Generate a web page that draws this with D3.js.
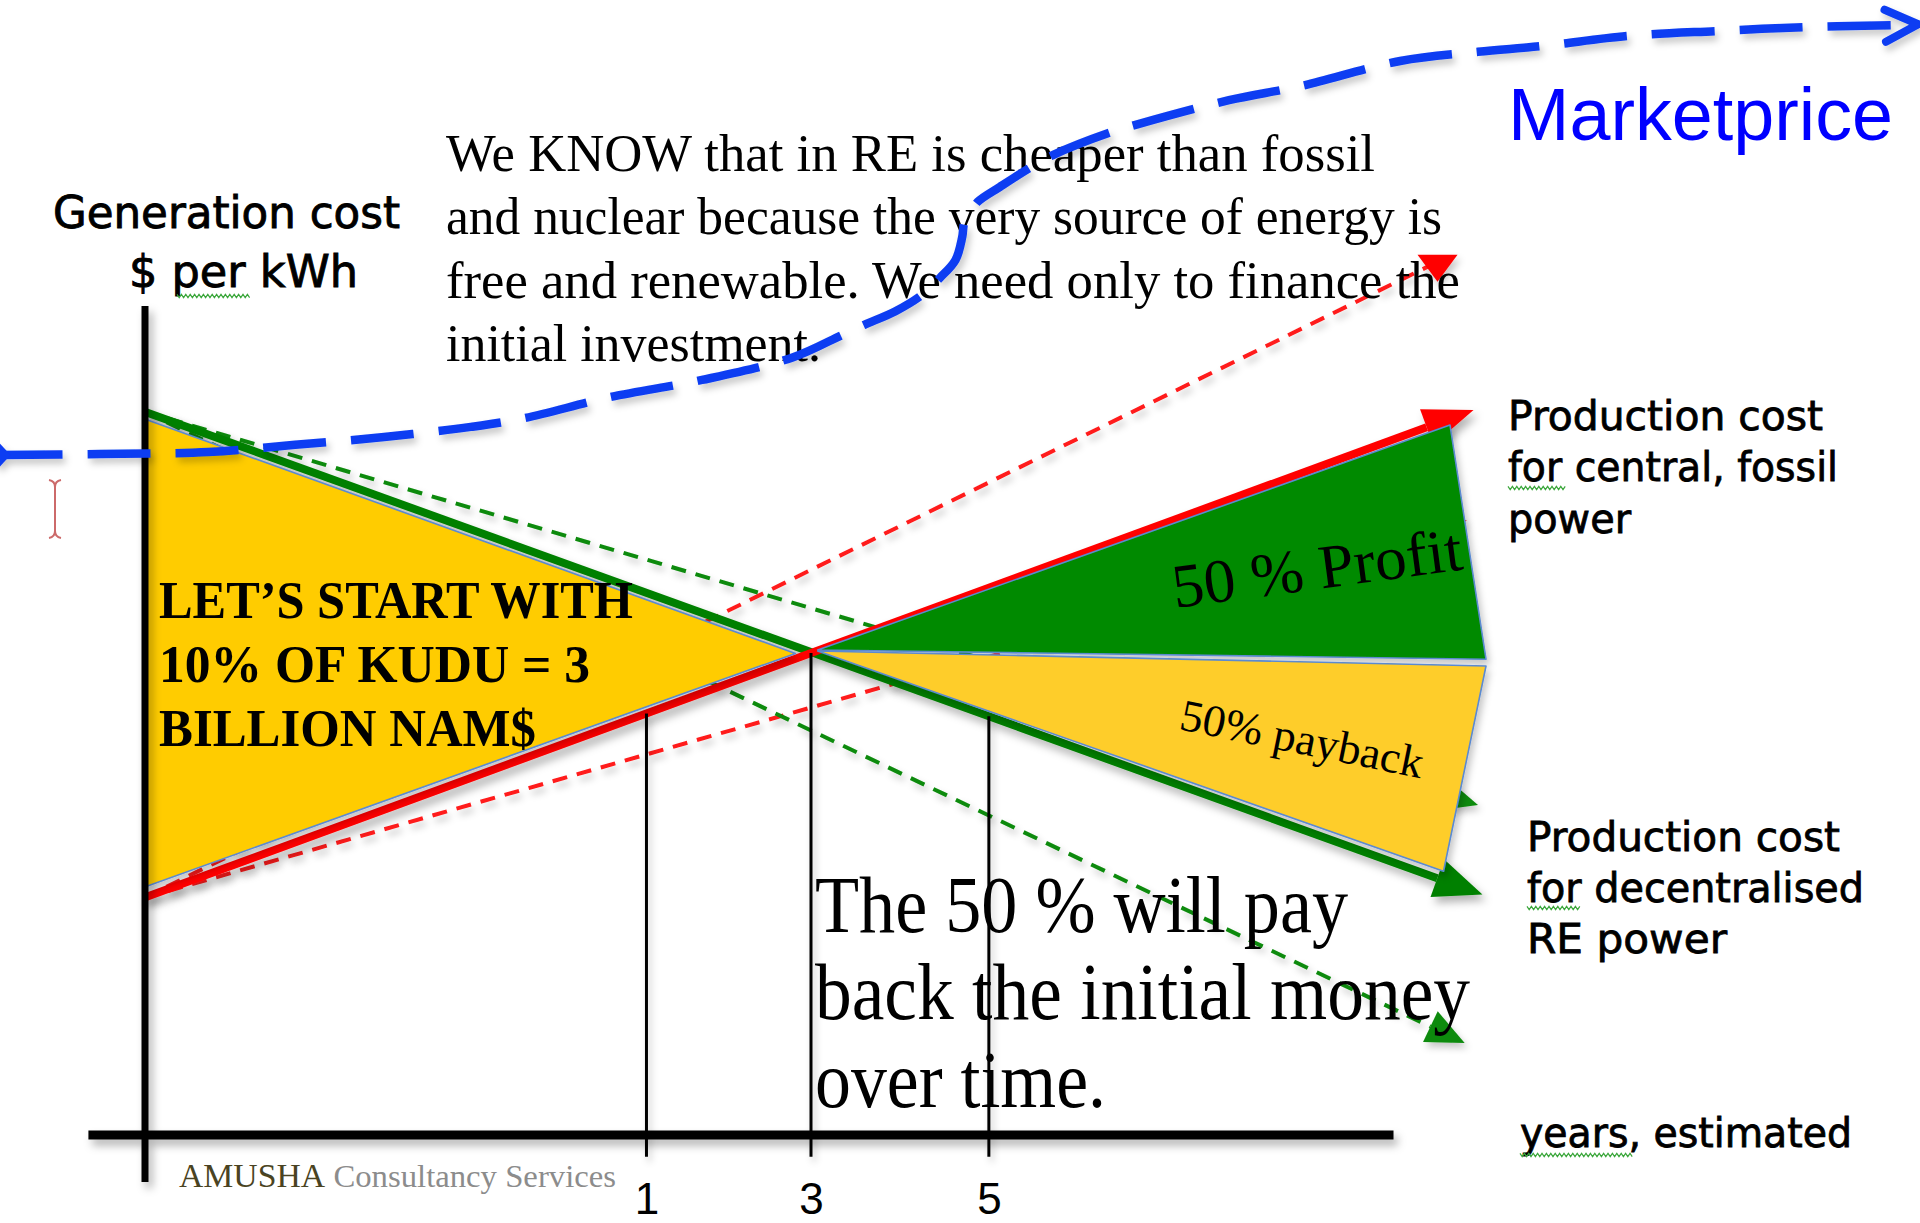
<!DOCTYPE html>
<html>
<head>
<meta charset="utf-8">
<script src="https://cdn.jsdelivr.net/npm/d3@7"></script>
<style>
  html, body { margin: 0; padding: 0; background: #fff; }
  svg { display: block; }
</style>
</head>
<body>
<svg id="chart" width="1920" height="1223"></svg>
<script>
// ---- data: schematic time (years) vs generation cost (cost units) ----
const reCost            = [[0, 14.95], [6.02, 4.97]];   // decentralised RE, falling
const fossilCost        = [[0, 4.9],  [5.98, 14.98]];   // central fossil, rising
const reCostShallow     = [[0, 14.95], [6.0, 6.82]];
const reCostSteep       = [[0, 14.95], [5.94, 1.9]];
const fossilCostSteep   = [[0, 4.9],  [5.8, 18.0]];
const fossilCostShallow = [[0, 4.9],  [5.95, 12.7]];

const investmentArea = [[0, 14.8], [0, 5.12], [2.93, 9.95]];
const profitArea     = [[3.03, 10.02], [5.874, 14.67], [6.036, 9.83]];
const paybackArea    = [[3.03, 10.0], [6.036, 9.69], [5.845, 5.45]];

const marketPrice = [
  [-0.65, 14.05], [-0.2, 14.07], [0.29, 14.11], [0.68, 14.26], [1.08, 14.42],
  [1.47, 14.63], [1.71, 14.81], [2.1, 15.25], [2.51, 15.6], [2.92, 16.07],
  [3.14, 16.53], [3.24, 16.74], [3.38, 17.02], [3.5, 17.36], [3.58, 17.71],
  [3.65, 18.08], [3.68, 18.55], [3.69, 18.86], [3.72, 19.07], [3.75, 19.28],
  [3.85, 19.59], [3.99, 20.0], [4.09, 20.25], [4.35, 20.72], [4.46, 20.87],
  [4.88, 21.38], [5.2, 21.67], [5.65, 22.19], [6.0, 22.38], [6.29, 22.5],
  [6.68, 22.71], [7.08, 22.81], [7.47, 22.89], [7.87, 22.93], [7.98, 22.95]
];

const tickYears  = [2.26, 3.0, 3.8];
const tickLabels = ["1", "3", "5"];
const xAxisSpan  = [-0.25, 5.62];
const yAxisSpan  = [-0.97, 17.13];
const guideFoot  = -0.45;

// ---- texts ----
const axisTitle    = ["Generation cost", "$ per kWh"];
const fossilLabel  = ["Production cost", "for central, fossil", "power"];
const reLabel      = ["Production cost", "for decentralised", "RE power"];
const timeLabel    = "years, estimated";
const marketLabel  = "Marketprice";
const startNote    = ["LET\u2019S START WITH", "10% OF KUDU = 3", "BILLION NAM$"];
const profitLabel  = "50 % Profit";
const paybackLabel = "50% payback";
const paybackNote  = ["The 50 % will pay", "back the initial money", "over time."];
const introNote    = [
  "We KNOW that in RE is cheaper than fossil",
  "and nuclear because the very source of energy is",
  "free and renewable. We need only to finance the",
  "initial investment."
];
const brand = ["AMUSHA", " Consultancy Services"];

// ---- scales ----
const x = d3.scaleLinear().domain([0, 3]).range([144, 811]);
const y = d3.scaleLinear().domain([0, 10]).range([1135, 651]);
const toPx = d => [x(d[0]), y(d[1])];

const svg = d3.select("#chart");
const defs = svg.append("defs");

function shadow(id, dx, dy, sd, op) {
  defs.append("filter").attr("id", id)
    .attr("filterUnits", "userSpaceOnUse")
    .attr("x", -60).attr("y", -60).attr("width", 2040).attr("height", 1343)
    .append("feDropShadow")
    .attr("dx", dx).attr("dy", dy).attr("stdDeviation", sd)
    .attr("flood-color", "#000").attr("flood-opacity", op);
}
shadow("shadow", 4, 6, 4, 0.3);
shadow("shadowSoft", 3, 5, 3.5, 0.22);

function arrowMarker(id, len, half, color) {
  defs.append("marker").attr("id", id)
    .attr("markerUnits", "userSpaceOnUse")
    .attr("viewBox", `-1 ${-half - 1} ${len + 2} ${2 * half + 2}`)
    .attr("markerWidth", len + 2).attr("markerHeight", 2 * half + 2)
    .attr("refX", 0).attr("refY", 0).attr("orient", "auto")
    .append("path").attr("d", `M0,${-half}L${len},0L0,${half}Z`).attr("fill", color);
}
arrowMarker("arrowGreen", 48, 20, "#008000");
arrowMarker("arrowRed", 50, 19, "#ff0000");
arrowMarker("arrowGreenSmall", 38, 17, "#0a8a0a");
arrowMarker("arrowRedSmall", 36, 15, "#ff1a1a");

// downward wedge closing the steep fossil band
defs.append("marker").attr("id", "wedgeRed")
  .attr("markerUnits", "userSpaceOnUse")
  .attr("viewBox", "-26 -20 52 40").attr("markerWidth", 52).attr("markerHeight", 40)
  .attr("refX", -4).attr("refY", -4).attr("orient", "0")
  .append("path").attr("d", "M-20,-13L20,-13L0,14Z").attr("fill", "#ff0000");

const blue = "#0b3cf2";
defs.append("marker").attr("id", "tailBlue")
  .attr("markerUnits", "userSpaceOnUse")
  .attr("viewBox", "-13 -14 26 28").attr("markerWidth", 26).attr("markerHeight", 28)
  .attr("refX", 0).attr("refY", 0).attr("orient", "auto")
  .append("path").attr("d", "M-11,0L0,-12L11,0L0,12Z").attr("fill", blue);
defs.append("marker").attr("id", "headBlue")
  .attr("markerUnits", "userSpaceOnUse")
  .attr("viewBox", "-42 -24 50 48").attr("markerWidth", 50).attr("markerHeight", 48)
  .attr("refX", 0).attr("refY", 0).attr("orient", "auto")
  .style("overflow", "visible")
  .append("path").attr("d", "M-33,-16L0,0L-33,16")
  .attr("fill", "none").attr("stroke", blue).attr("stroke-width", 8)
  .attr("stroke-linecap", "round").attr("stroke-linejoin", "round");

// polyline in pixels, shortened at the end so an arrowhead can sit on it
function trimmedPath(pts, trim) {
  const p = pts.map(toPx);
  if (trim) {
    const a = p[p.length - 2], b = p[p.length - 1];
    const dx = b[0] - a[0], dy = b[1] - a[1], len = Math.hypot(dx, dy);
    p[p.length - 1] = [b[0] - dx / len * trim, b[1] - dy / len * trim];
  }
  return d3.line()(p);
}

// ---- uncertainty bands (dashed) ----
const gDash = svg.append("g").attr("filter", "url(#shadowSoft)").attr("fill", "none");
[
  { pts: fossilCostSteep,   color: "#ff1a1a", trim: 0,  marker: "wedgeRed" },
  { pts: fossilCostShallow, color: "#ff1a1a", trim: 36, marker: "arrowRedSmall" },
  { pts: reCostShallow,     color: "#0a8a0a", trim: 38, marker: "arrowGreenSmall" },
  { pts: reCostSteep,       color: "#0a8a0a", trim: 38, marker: "arrowGreenSmall" }
].forEach(s => {
  gDash.append("path").attr("d", trimmedPath(s.pts, s.trim))
    .attr("stroke", s.color).attr("stroke-width", 4)
    .attr("stroke-dasharray", "15 10")
    .attr("marker-end", `url(#${s.marker})`);
});

// ---- cost lines (solid) ----
const gSolid = svg.append("g").attr("filter", "url(#shadow)").attr("fill", "none");
gSolid.append("path").attr("d", trimmedPath(reCost, 48))
  .attr("stroke", "#008000").attr("stroke-width", 8).attr("marker-end", "url(#arrowGreen)");
gSolid.append("path").attr("d", trimmedPath(fossilCost, 50))
  .attr("stroke", "#ff0000").attr("stroke-width", 8).attr("marker-end", "url(#arrowRed)");

// ---- investment / profit / payback areas ----
const gArea = svg.append("g").attr("filter", "url(#shadowSoft)");
[
  { pts: investmentArea, fill: "#ffcc00" },
  { pts: profitArea,     fill: "#008a00" },
  { pts: paybackArea,    fill: "#fecd2b" }
].forEach(a => {
  gArea.append("path").attr("d", d3.line()(a.pts.map(toPx)) + "Z")
    .attr("fill", a.fill).attr("stroke", "#5b8ad0").attr("stroke-width", 1.6)
    .attr("stroke-linejoin", "round");
});

// ---- year guides, dropped from the cost lines ----
const lineAt = (pts, t) => pts[0][1] + (pts[1][1] - pts[0][1]) * (t - pts[0][0]) / (pts[1][0] - pts[0][0]);
const gGuide = svg.append("g").attr("filter", "url(#shadowSoft)");
tickYears.forEach(t => {
  const top = Math.min(lineAt(reCost, t), lineAt(fossilCost, t));
  gGuide.append("line")
    .attr("x1", x(t)).attr("x2", x(t))
    .attr("y1", y(top)).attr("y2", y(guideFoot))
    .attr("stroke", "#000").attr("stroke-width", 3);
});

// ---- axes ----
const gAxis = svg.append("g").attr("filter", "url(#shadow)");
gAxis.append("line")
  .attr("x1", x(xAxisSpan[0])).attr("x2", x(xAxisSpan[1]))
  .attr("y1", y(0)).attr("y2", y(0))
  .attr("stroke", "#000").attr("stroke-width", 9);
gAxis.append("line")
  .attr("x1", x(0) + 1).attr("x2", x(0) + 1)
  .attr("y1", y(yAxisSpan[0])).attr("y2", y(yAxisSpan[1]))
  .attr("stroke", "#000").attr("stroke-width", 7);

const xAxis = d3.axisBottom(x)
  .tickValues(tickYears)
  .tickFormat((d, i) => tickLabels[i])
  .tickSize(0).tickPadding(48);
const gX = svg.append("g").attr("transform", `translate(0,${y(0)})`).call(xAxis);
gX.select(".domain").remove();
gX.selectAll("text")
  .attr("font-family", "'Liberation Sans', Arial, sans-serif")
  .attr("font-size", 44).attr("fill", "#000");

// ---- text helpers ----
function line(str, px, py, opt) {
  const t = svg.append("text")
    .attr("x", px).attr("y", py)
    .attr("font-family", opt.family)
    .attr("font-size", opt.size)
    .attr("font-weight", opt.weight || "normal")
    .attr("fill", opt.fill || "#000")
    .text(str);
  if (opt.heavy) t.attr("stroke", opt.fill || "#000").attr("stroke-width", opt.heavy);
  if (opt.width) t.attr("textLength", opt.width).attr("lengthAdjust", "spacingAndGlyphs");
  if (opt.rotate) t.attr("transform", `rotate(${opt.rotate},${px},${py})`);
  return t;
}
const sans = "'DejaVu Sans', Verdana, sans-serif";
const serif = "'Liberation Serif', 'Times New Roman', serif";

// spelling-check squiggles under a few words
function squiggle(x0, x1, yy) {
  const pts = [];
  for (let k = 0, xx = x0; xx <= x1; xx += 2.2, k++) pts.push([xx, yy + (k % 2 ? 1.6 : -1.6)]);
  svg.append("path").attr("d", d3.line()(pts))
    .attr("fill", "none").attr("stroke", "#3aa63a").attr("stroke-width", 1.2);
}

// axis title
line(axisTitle[0], 53, 228, { family: sans, size: 44, width: 347, heavy: 0.9 });
line(axisTitle[1], 129, 287, { family: sans, size: 44, width: 229, heavy: 0.9 });
squiggle(177, 250, 296);

// intro note
[171, 234, 298, 361].forEach((b, i) => {
  line(introNote[i], 446, b, { family: serif, size: 52, width: [929, 996, 1014, 375][i] });
});

// start note inside the investment area
[618, 682, 746].forEach((b, i) => {
  line(startNote[i], 159, b, { family: serif, size: 52, weight: "bold", width: [474, 431, 377][i] });
});

// area labels
line(profitLabel, 1175, 608, { family: serif, size: 62, width: 292, rotate: -7.6 });
line(paybackLabel, 1178, 729, { family: serif, size: 45, width: 247, rotate: 11.5 });

// payback note
[932, 1019, 1107].forEach((b, i) => {
  line(paybackNote[i], 815, b, { family: serif, size: 80, width: [533, 655, 291][i] });
});

// right-hand labels
[430, 481, 533].forEach((b, i) => {
  line(fossilLabel[i], 1508, b, { family: sans, size: 40, width: [315, 330, 123][i], heavy: 0.8 });
});
squiggle(1508, 1567, 488);
[851, 902, 953].forEach((b, i) => {
  line(reLabel[i], 1527, b, { family: sans, size: 40, width: [313, 337, 200][i], heavy: 0.8 });
});
squiggle(1527, 1582, 908);
line(timeLabel, 1520, 1147, { family: sans, size: 40, width: 332, heavy: 0.8 });
squiggle(1520, 1633, 1155);

line(marketLabel, 1508, 140, { family: "'Liberation Sans', Arial, sans-serif", size: 74, width: 385, fill: "#0000ff" });

// brand line
const brandText = svg.append("text")
  .attr("x", 179).attr("y", 1187)
  .attr("font-family", serif).attr("font-size", 32)
  .attr("textLength", 437).attr("lengthAdjust", "spacingAndGlyphs");
brandText.append("tspan").attr("fill", "#4a4322").attr("font-size", 33).text(brand[0]);
brandText.append("tspan").attr("fill", "#8c8c8c").text(brand[1]);

// text cursor
svg.append("path")
  .attr("d", "M49,480Q55,481 55,487Q55,481 61,480M55,487L55,531M49,538Q55,537 55,531Q55,537 61,538")
  .attr("fill", "none").attr("stroke", "#cc6a6a").attr("stroke-width", 2);

// ---- market price ----
svg.append("g").attr("filter", "url(#shadowSoft)")
  .append("path")
  .attr("d", d3.line().x(d => x(d[0])).y(d => y(d[1])).curve(d3.curveCatmullRom.alpha(0.5))(marketPrice))
  .attr("fill", "none").attr("stroke", blue).attr("stroke-width", 8.5)
  .attr("stroke-dasharray", "63 25")
  .attr("marker-start", "url(#tailBlue)")
  .attr("marker-end", "url(#headBlue)");
</script>
</body>
</html>
